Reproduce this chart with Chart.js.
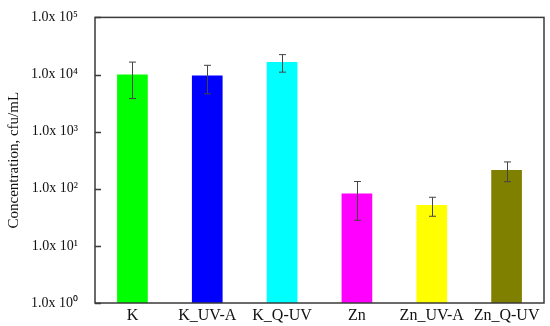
<!DOCTYPE html>
<html>
<head>
<meta charset="utf-8">
<script src="https://cdn.jsdelivr.net/npm/chart.js@4"></script>
<style>
  html, body { margin: 0; padding: 0; background: #fff; }
  #wrap { width: 550px; height: 326px; position: relative; }
</style>
</head>
<body>
<div id="wrap"><canvas id="c"></canvas></div>
<script>
// categories + values (log axis, cfu/mL)
const categories = ["K", "K_UV-A", "K_Q-UV", "Zn", "Zn_UV-A", "Zn_Q-UV"];
const means = [10000, 9600, 16500, 83, 52, 214];
const errLow = [3800, 4600, 11000, 28, 33, 133];
const errHigh = [16500, 14500, 22300, 134, 71, 295];
const barColors = ["#00ff00", "#0000ff", "#00ffff", "#ff00ff", "#ffff00", "#808000"];
const tickValues = [1, 10, 100, 1000, 10000, 100000];

const SUP = { "0": "\u2070", "1": "\u00b9", "2": "\u00b2", "3": "\u00b3", "4": "\u2074", "5": "\u2075" };
const SERIF = "'Liberation Serif', 'Times New Roman', serif";
const AXIS_COLOR = "#3a3a3a";

// error bars + box + inward y ticks
const extras = {
    id: "extras",
    afterDatasetsDraw(chart) {
        const ctx = chart.ctx;
        const y = chart.scales.y;
        const meta = chart.getDatasetMeta(0);
        ctx.save();
        ctx.strokeStyle = "#444";
        ctx.lineWidth = 1;
        meta.data.forEach((bar, i) => {
            const x = Math.round(bar.x) + 0.5;
            const yt = y.getPixelForValue(errHigh[i]);
            const yb = y.getPixelForValue(errLow[i]);
            ctx.beginPath();
            ctx.moveTo(x, yt); ctx.lineTo(x, yb);
            ctx.moveTo(x - 3.5, yt); ctx.lineTo(x + 3.5, yt);
            ctx.moveTo(x - 3.5, yb); ctx.lineTo(x + 3.5, yb);
            ctx.stroke();
        });
        ctx.restore();
    },
    afterDraw(chart) {
        const ctx = chart.ctx;
        const a = chart.chartArea;
        const y = chart.scales.y;
        ctx.save();
        ctx.strokeStyle = AXIS_COLOR;
        ctx.lineWidth = 1.5;
        ctx.strokeRect(a.left, a.top, a.right - a.left, a.bottom - a.top);
        ctx.beginPath();
        for (const v of tickValues) {
            const py = Math.round(y.getPixelForValue(v)) + 0.5;
            ctx.moveTo(a.left, py);
            ctx.lineTo(a.left + 6, py);
        }
        ctx.stroke();
        ctx.restore();
    }
};

new Chart(document.getElementById("c"), {
    type: "bar",
    data: {
        labels: categories,
        datasets: [{
            data: means,
            backgroundColor: barColors,
            borderWidth: 0,
            categoryPercentage: 1,
            barPercentage: 0.41
        }]
    },
    options: {
        responsive: true,
        maintainAspectRatio: false,
        animation: false,
        layout: { padding: { top: 0, right: 6, left: 5, bottom: 0 } },
        plugins: { legend: { display: false }, tooltip: { enabled: false } },
        scales: {
            x: {
                grid: { display: false, tickLength: 0 },
                border: { display: false },
                ticks: {
                    color: "#111",
                    font: { family: SERIF, size: 16 },
                    padding: 3,
                    maxRotation: 0,
                    autoSkip: false
                },
                afterFit(s) { s.height = 23; }
            },
            y: {
                type: "logarithmic",
                min: 1,
                max: 100000,
                grid: { display: false },
                border: { display: false },
                afterBuildTicks(s) { s.ticks = tickValues.map(v => ({ value: v })); },
                ticks: {
                    color: "#111",
                    font: { family: SERIF, size: 14 },
                    padding: 9,
                    callback(v) {
                        const e = String(Math.round(Math.log10(v)));
                        return "1.0x 10" + e.split("").map(d => SUP[d]).join("");
                    }
                },
                title: {
                    display: true,
                    text: "Concentration, cfu/mL",
                    color: "#111",
                    font: { family: SERIF, size: 15 },
                    padding: 0
                },
                afterFit(s) { s.width = 90; }
            }
        }
    },
    plugins: [extras]
});
</script>
</body>
</html>
